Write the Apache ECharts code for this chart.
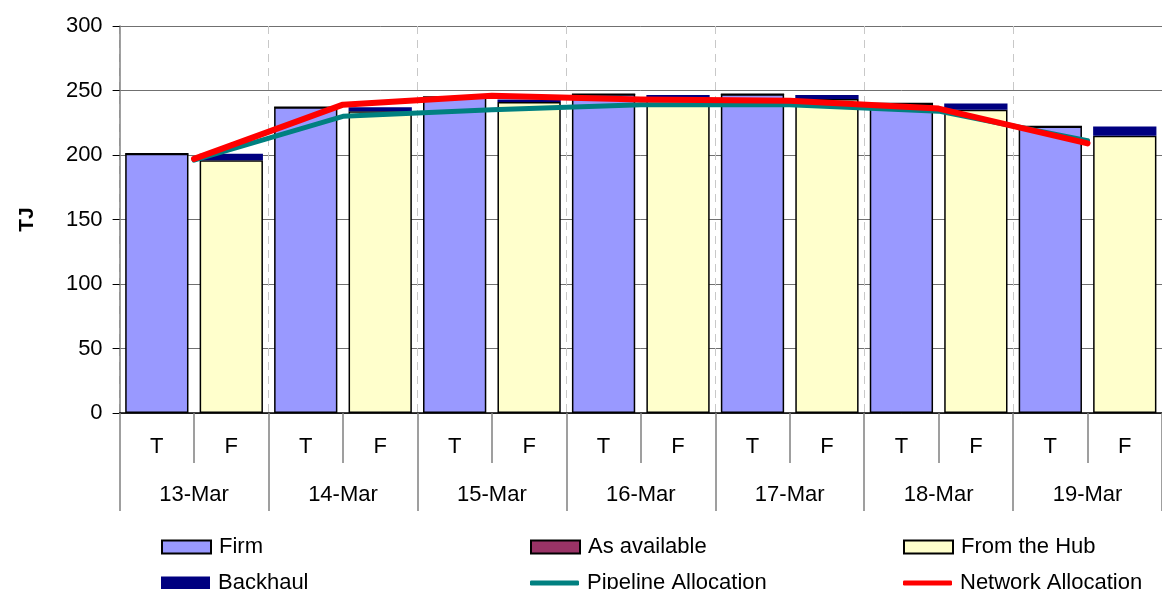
<!DOCTYPE html>
<html>
<head>
<meta charset="utf-8">
<script src="https://cdn.jsdelivr.net/npm/echarts@6/dist/echarts.min.js"></script>
<style>
  html, body { margin: 0; padding: 0; background: #ffffff; }
  #chart { width: 1162px; height: 589px; }
</style>
</head>
<body>
<div id="chart"></div>
<script>
// Daily gas flows (TJ): T / F bar pair per gas day
const days = ['13-Mar', '14-Mar', '15-Mar', '16-Mar', '17-Mar', '18-Mar', '19-Mar'];
const slotLabels = ['T', 'F'];

const firm        = [201, 237, 245, 247, 247, 240, 222];
const asAvailable = [0, 0, 0, 0, 0, 0, 0];
const fromHub     = [196, 234, 241, 244, 243.5, 235, 215];
const backhaul    = [5, 3, 2, 2.5, 3, 5, 7];

const pipelineAllocation = [196, 230, 235, 239, 239, 234, 211];
const networkAllocation  = [197, 239, 246, 243, 242, 236, 209];

const yTicks = { min: 0, max: 300, interval: 50 };

// Two bar slots per day: T carries Firm / As available, F carries From the Hub / Backhaul
const slots = [];
days.forEach(d => slotLabels.forEach(s => slots.push(d + '|' + s)));
const onSlot = (vals, slotIdx) => {
  const out = [];
  vals.forEach(v => slotLabels.forEach((_, k) => out.push(k === slotIdx ? v : '-')));
  return out;
};

const FONT = "'Liberation Sans', Arial, sans-serif";
const FS = 22;
const chart = echarts.init(document.getElementById('chart'), null, { renderer: 'canvas' });

// One legend box per entry, laid out as a 3 x 2 table
const legendText = { fontFamily: FONT, fontSize: FS, color: '#000', lineHeight: 22, padding: [0, 0, 0, 3] };
const legendEntry = (name, left, top, isLine) => ({
  orient: 'horizontal', left: left, top: top,
  itemWidth: 49, itemHeight: isLine ? 5 : 13,
  textStyle: legendText, selectedMode: false,
  data: [{ name: name, icon: isLine ? 'roundRect' : 'rect' }]
});
const row1 = 531, row2 = 567;

chart.setOption({
  animation: false,
  backgroundColor: '#ffffff',
  grid: { left: 119.6, top: 26, width: 1052.8, height: 387, containLabel: false },
  legend: [
    legendEntry('Firm', 156, row1, false),
    legendEntry('As available', 525, row1, false),
    legendEntry('From the Hub', 898, row1, false),
    legendEntry('Backhaul', 156, row2, false),
    legendEntry('Pipeline Allocation', 525, row2, true),
    legendEntry('Network Allocation', 898, row2, true)
  ],
  xAxis: [
    {
      type: 'category',
      data: slots,
      position: 'bottom',
      boundaryGap: true,
      axisLine: { show: true, lineStyle: { color: '#000', width: 1.5 } },
      axisTick: { show: true, interval: 0, length: 50, lineStyle: { color: '#808080', width: 1.5 } },
      axisLabel: {
        interval: 0, margin: 23, fontFamily: FONT, fontSize: FS, color: '#000',
        formatter: v => v.split('|')[1]
      },
      splitLine: { show: false }
    },
    {
      type: 'category',
      data: days,
      position: 'bottom',
      boundaryGap: true,
      axisLine: { show: false },
      axisTick: { show: true, interval: 0, length: 98, lineStyle: { color: '#808080', width: 1.5 } },
      axisLabel: { interval: 0, margin: 71, fontFamily: FONT, fontSize: FS, color: '#000' },
      splitLine: { show: true, interval: 0, lineStyle: { color: '#c8c8c8', width: 1, type: [8, 6] } }
    }
  ],
  yAxis: {
    type: 'value',
    min: yTicks.min, max: yTicks.max, interval: yTicks.interval,
    name: 'TJ',
    nameLocation: 'middle',
    nameGap: 82,
    nameTextStyle: { fontFamily: FONT, fontSize: 21, fontWeight: 'bold', color: '#000' },
    axisLine: { show: true, lineStyle: { color: '#808080', width: 1.5 } },
    axisTick: { show: true, length: 7, lineStyle: { color: '#000', width: 1 } },
    axisLabel: { margin: 17, fontFamily: FONT, fontSize: FS, color: '#000' },
    splitLine: { show: true, lineStyle: { color: '#707070', width: 1 } }
  },
  series: [
    {
      name: 'Firm', type: 'bar', stack: 'flow', xAxisIndex: 0,
      barCategoryGap: '15%',
      data: onSlot(firm, 0),
      itemStyle: { color: '#9999ff', borderColor: '#000', borderWidth: 1.5 }
    },
    {
      name: 'As available', type: 'bar', stack: 'flow', xAxisIndex: 0,
      barCategoryGap: '15%',
      data: onSlot(asAvailable, 0),
      itemStyle: { color: '#993366', borderColor: '#000', borderWidth: 1.5 }
    },
    {
      name: 'From the Hub', type: 'bar', stack: 'flow', xAxisIndex: 0,
      barCategoryGap: '15%',
      data: onSlot(fromHub, 1),
      itemStyle: { color: '#ffffcc', borderColor: '#000', borderWidth: 1.5 }
    },
    {
      name: 'Backhaul', type: 'bar', stack: 'flow', xAxisIndex: 0,
      barCategoryGap: '15%',
      data: onSlot(backhaul, 1),
      itemStyle: { color: '#000080', borderWidth: 0 }
    },
    {
      name: 'Pipeline Allocation', type: 'line', xAxisIndex: 1,
      data: pipelineAllocation,
      symbol: 'none', smooth: false,
      itemStyle: { color: '#008080' },
      lineStyle: { color: '#008080', width: 5, cap: 'round', join: 'round' },
      z: 5
    },
    {
      name: 'Network Allocation', type: 'line', xAxisIndex: 1,
      data: networkAllocation,
      symbol: 'none', smooth: false,
      itemStyle: { color: '#ff0000' },
      lineStyle: { color: '#ff0000', width: 6, cap: 'round', join: 'round' },
      z: 6
    }
  ]
});
</script>
</body>
</html>
